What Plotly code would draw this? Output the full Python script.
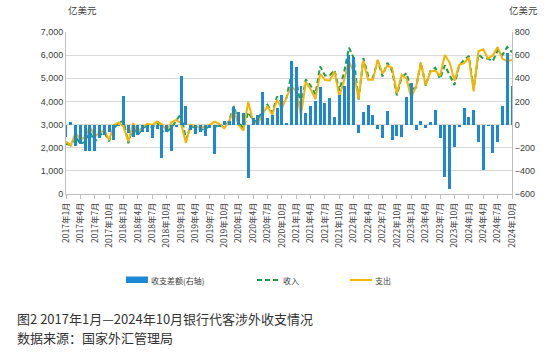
import plotly.graph_objects as go

months = [f"{y}年{m}月" for y in range(2017, 2025) for m in range(1, 13)][:94]
tick_labels = months[::3]

expense = [2265, 2090, 2650, 2340, 2480, 2910, 2480, 2650, 2740, 2340, 2985, 3090,
           2910, 2265, 3060, 2650, 2910, 3030, 2985, 3130, 3000, 2750, 3100, 3200,
           3050, 2200, 2985, 2940, 2840, 2910, 2985, 3130, 3030, 2840, 3130, 3650,
           2985, 2740, 3990, 3130, 3030, 3450, 3800, 3420, 4070, 3700, 4150, 4650,
           4450, 3400, 4850, 4530, 4100, 5190, 4930, 4900, 5290, 4210, 4930, 5720,
           5290, 4100, 5760, 4940, 4940, 5800, 5200, 5550, 5450, 4360, 5150, 4980,
           4150, 4650, 5650, 4710, 5290, 5330, 5100, 6010, 5680, 4900, 5580, 5650,
           5900, 4430, 6170, 6250, 5860, 5980, 6350, 5840, 5740, 5790]

income = [2160, 2115, 2465, 2175, 2250, 2680, 2250, 2535, 2650, 2280, 2855, 3080,
          3160, 2190, 2950, 2560, 2845, 2970, 2870, 3090, 2710, 2690, 2870, 3175,
          3470, 2360, 2935, 2855, 2780, 2810, 2955, 2880, 3010, 2870, 3160, 3800,
          3095, 2840, 3530, 3190, 3110, 3730, 3860, 3505, 4210, 3957, 4162, 5200,
          4946, 3735, 4950, 4691, 4307, 5513, 5120, 5128, 5353, 4466, 5267, 6322,
          5878, 4025, 5872, 5110, 5024, 5760, 5082, 5668, 5317, 4262, 5046, 5222,
          4507, 4604, 5685, 4684, 5316, 5457, 4982, 5560, 5120, 4710, 5557, 5797,
          5963, 4557, 6023, 5858, 5848, 5738, 6203, 6001, 6357, 6124]

balance = [-105, 25, -185, -165, -230, -230, -230, -115, -90, -60, -130, -10,
           250, -75, -110, -90, -65, -60, -115, -40, -290, -60, -230, -25,
           420, 160, -50, -85, -60, -100, -30, -250, -20, 30, 30, 150,
           110, 100, -460, 60, 80, 280, 60, 85, 140, 257, 12, 550,
           496, 335, 100, 161, 207, 323, 190, 228, 63, 256, 337, 602,
           588, -75, 112, 170, 84, -40, -118, 118, -133, -98, -104, 242,
           357, -46, 35, -26, 26, 127, -118, -450, -560, -190, -23, 147,
           63, 127, -147, -392, -12, -242, -147, 161, 617, 334]

left_ticks = [0, 1000, 2000, 3000, 4000, 5000, 6000, 7000]
right_ticks = [-600, -400, -200, 0, 200, 400, 600, 800]

BLUE = "#1E88D4"
GREEN = "#1F9E48"
ORANGE = "#F4B400"
FONT = "Liberation Sans, Noto Sans CJK SC, sans-serif"
CJK = "Noto Sans CJK SC, sans-serif"
TXT = "#404040"

fig = go.Figure()
fig.add_trace(go.Bar(x=months, y=balance, name="收支差额(右轴)", yaxis="y2",
                     marker=dict(color=BLUE, line=dict(width=0)), width=0.62))
fig.add_trace(go.Scatter(x=months, y=income, name="收入", mode="lines",
                         line=dict(color=GREEN, width=2, dash="5px,3px")))
fig.add_trace(go.Scatter(x=months, y=expense, name="支出", mode="lines",
                         line=dict(color=ORANGE, width=2)))

fig.update_layout(
    width=557, height=356,
    margin=dict(l=66, r=45, t=32, b=162),
    paper_bgcolor="white", plot_bgcolor="white",
    bargap=0,
    showlegend=False,
    hovermode=False,
    xaxis=dict(type="category", range=[0, 93],
               tickmode="array", tickvals=tick_labels, ticktext=tick_labels,
               tickangle=-90, tickfont=dict(family=CJK, size=8.5, color=TXT),
               ticks="outside", ticklen=4, tickcolor="#bfbfbf",
               showline=True, linecolor="#bfbfbf", linewidth=1,
               showgrid=False, zeroline=False, automargin=False),
    yaxis=dict(range=[0, 7000], tickvals=left_ticks, tickformat=",",
               tickfont=dict(family=FONT, size=9, color=TXT),
               showgrid=True, gridcolor="#d9d9d9", gridwidth=1,
               showline=True, linecolor="#bfbfbf", linewidth=1,
               zeroline=False, ticks="", automargin=False),
    yaxis2=dict(range=[-600, 800], tickvals=right_ticks, overlaying="y", side="right",
                tickfont=dict(family=FONT, size=9, color=TXT),
                showgrid=False, showline=True, linecolor="#bfbfbf", linewidth=1,
                zeroline=False, ticks="", automargin=False),
)

# manual legend (paper coordinates: x=(px-66)/446, y=(194-py)/162)
def px_x(p):
    return (p - 66) / 446


def px_y(p):
    return (194 - p) / 162


fig.add_shape(type="rect", xref="paper", yref="paper",
              x0=px_x(126), x1=px_x(148), y0=px_y(283), y1=px_y(276.5),
              fillcolor=BLUE, line=dict(width=0))
fig.add_shape(type="line", xref="paper", yref="paper",
              x0=px_x(257), x1=px_x(278), y0=px_y(280), y1=px_y(280),
              line=dict(color=GREEN, width=2, dash="5px,3px"))
fig.add_shape(type="line", xref="paper", yref="paper",
              x0=px_x(350), x1=px_x(372), y0=px_y(280), y1=px_y(280),
              line=dict(color=ORANGE, width=2))
for label, xpos in [("收支差额(右轴)", 149), ("收入", 281), ("支出", 373)]:
    fig.add_annotation(text=label, xref="paper", yref="paper", x=px_x(xpos), y=px_y(280),
                       xanchor="left", yanchor="middle", showarrow=False,
                       font=dict(family=CJK, size=8, color=TXT))

fig.add_annotation(text="亿美元", xref="paper", yref="paper", x=0, y=1.08,
                   xanchor="left", yanchor="bottom", showarrow=False,
                   font=dict(family=CJK, size=9.5, color=TXT))
fig.add_annotation(text="亿美元", xref="paper", yref="paper", x=1.025, y=1.08,
                   xanchor="center", yanchor="bottom", showarrow=False,
                   font=dict(family=CJK, size=9.5, color=TXT))
fig.add_annotation(text="图2 2017年1月—2024年10月银行代客涉外收支情况", xref="paper",
                   yref="paper", x=px_x(15), y=px_y(318), xanchor="left", yanchor="middle",
                   showarrow=False, font=dict(family=CJK, size=13, color="#333333"))
fig.add_annotation(text="数据来源：国家外汇管理局", xref="paper",
                   yref="paper", x=px_x(15), y=px_y(337), xanchor="left", yanchor="middle",
                   showarrow=False, font=dict(family=CJK, size=13, color="#333333"))

fig.write_html("out.html", config={"displayModeBar": False, "staticPlot": True},
               post_script="document.body.style.margin='0';document.body.style.padding='0';")
